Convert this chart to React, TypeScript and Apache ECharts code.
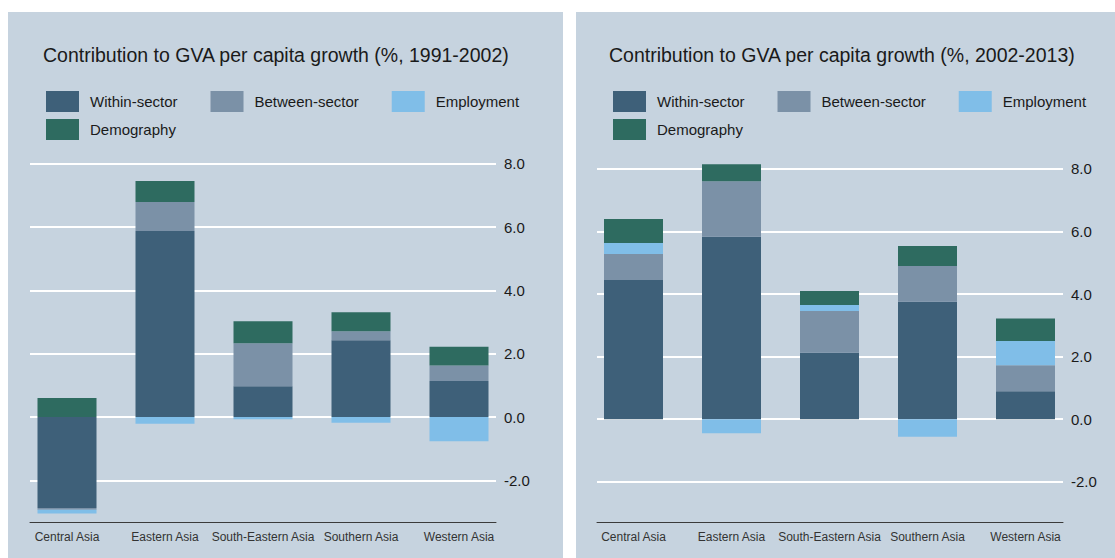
import React, { useEffect, useRef } from "react";
import * as echarts from "echarts";

const categories = ["Central Asia", "Eastern Asia", "South-Eastern Asia", "Southern Asia", "Western Asia"];
const seriesNames = ["Within-sector", "Between-sector", "Employment", "Demography"];
const panelTitles = [
  "Contribution to GVA per capita growth (%, 1991-2002)",
  "Contribution to GVA per capita growth (%, 2002-2013)",
];

// 1991-2002
const within1 = [-2.88, 5.88, 0.97, 2.43, 1.14];
const between1 = [-0.05, 0.92, 1.36, 0.28, 0.49];
const employment1 = [-0.12, -0.21, -0.07, -0.18, -0.77];
const demography1 = [0.6, 0.66, 0.7, 0.6, 0.59];

// 2002-2013
const within2 = [4.45, 5.83, 2.12, 3.75, 0.89];
const between2 = [0.83, 1.78, 1.34, 1.15, 0.83];
const employment2 = [0.35, -0.45, 0.19, -0.56, 0.78];
const demography2 = [0.77, 0.54, 0.45, 0.64, 0.72];

const yTicks = [-2, 0, 2, 4, 6, 8];

const COLORS = ["#3E6079", "#7B91A7", "#80BEE8", "#2E6B60"];
const BG = "#C6D3DF";
const FONT = "'Liberation Sans', Arial, sans-serif";

const panels = [
  {
    data: [within1, between1, employment1, demography1],
    bg: { x: 8, w: 555 },
    frame: { left: 30, width: 466, top: 154.5, height: 367.5 },
    bars: { left: 18, width: 490 },
    min: -3.32,
    max: 8.3,
    titleLeft: 43,
    legendLeft: 46,
  },
  {
    data: [within2, between2, employment2, demography2],
    bg: { x: 576, w: 539 },
    frame: { left: 597, width: 466, top: 159.6, height: 362.4 },
    bars: { left: 584.5, width: 490 },
    min: -3.29,
    max: 8.3,
    titleLeft: 609,
    legendLeft: 613,
  },
];

export default function App() {
  const ref = useRef<HTMLDivElement>(null);

  useEffect(() => {
    if (!ref.current) return;
    const chart = echarts.init(ref.current, null, { renderer: "svg" });

    const grid: any[] = [];
    const xAxis: any[] = [];
    const yAxis: any[] = [];
    const series: any[] = [];
    const title: any[] = [];
    const legend: any[] = [];

    panels.forEach((p, pi) => {
      grid.push({ left: p.frame.left, width: p.frame.width, top: p.frame.top, height: p.frame.height });
      grid.push({ left: p.bars.left, width: p.bars.width, top: p.frame.top, height: p.frame.height });

      xAxis.push({
        gridIndex: pi * 2,
        type: "category",
        data: categories,
        axisLine: { show: true, onZero: false, lineStyle: { color: "#3a3a3a", width: 1 } },
        axisTick: { show: false },
        axisLabel: { show: false },
        splitLine: { show: false },
      });
      xAxis.push({
        gridIndex: pi * 2 + 1,
        type: "category",
        data: categories,
        axisLine: { show: false },
        axisTick: { show: false },
        axisLabel: { fontSize: 12, color: "#333", margin: 9, fontFamily: FONT, interval: 0 },
        splitLine: { show: false },
      });

      yAxis.push({
        gridIndex: pi * 2,
        type: "value",
        position: "right",
        min: p.min,
        max: p.max,
        axisLine: { show: false },
        axisTick: { show: false, customValues: yTicks },
        axisLabel: {
          customValues: yTicks,
          formatter: (v: number) => v.toFixed(1),
          fontSize: 15,
          color: "#1a1a1a",
          margin: 8,
          fontFamily: FONT,
        },
        splitLine: { show: true, lineStyle: { color: "#ffffff", width: 2 } },
      });
      yAxis.push({
        gridIndex: pi * 2 + 1,
        type: "value",
        min: p.min,
        max: p.max,
        show: false,
        splitLine: { show: false },
      });

      seriesNames.forEach((name, si) => {
        series.push({
          name,
          type: "bar",
          xAxisIndex: pi * 2 + 1,
          yAxisIndex: pi * 2 + 1,
          stack: "panel" + pi,
          barWidth: 59,
          itemStyle: { color: COLORS[si] },
          data: p.data[si],
        });
      });

      title.push({
        text: panelTitles[pi],
        left: p.titleLeft,
        top: 45,
        padding: 0,
        textStyle: { fontSize: 19.5, fontWeight: "normal", color: "#1a1a1a", fontFamily: FONT },
      });

      const legendCommon = {
        orient: "horizontal",
        left: p.legendLeft,
        padding: 0,
        itemWidth: 33,
        itemHeight: 21,
        itemGap: 33,
        icon: "rect",
        selectedMode: false,
        textStyle: { fontSize: 15, color: "#1a1a1a", fontFamily: FONT, padding: [0, 0, 0, 6] },
      };
      legend.push({ ...legendCommon, top: 91, data: seriesNames.slice(0, 3) });
      legend.push({ ...legendCommon, top: 119, data: seriesNames.slice(3) });
    });

    const graphic = panels.map((p) => ({
      type: "rect",
      z: -10,
      silent: true,
      shape: { x: p.bg.x, y: 12, width: p.bg.w, height: 546 },
      style: { fill: BG },
    }));

    chart.setOption({
      animation: false,
      backgroundColor: "#ffffff",
      textStyle: { fontFamily: FONT },
      graphic,
      title,
      legend,
      grid,
      xAxis,
      yAxis,
      series,
    });

    return () => chart.dispose();
  }, []);

  return (
    <div
      ref={ref}
      style={{ position: "absolute", left: 0, top: 0, width: 1115, height: 558 }}
    />
  );
}
